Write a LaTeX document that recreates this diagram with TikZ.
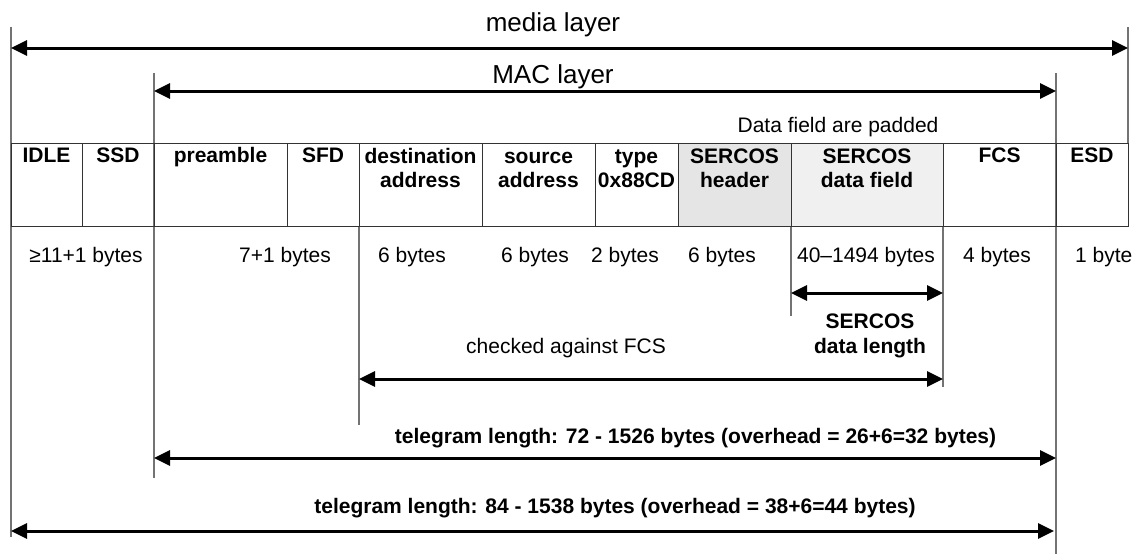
\documentclass[tikz,border=0pt]{standalone}
\usepackage{fontspec}
\setmainfont{Liberation Sans}
\usepackage{tikz}
\usetikzlibrary{arrows.meta}
\tikzset{
    field-cell/.style = {draw=black!80, line width=1pt, rectangle, minimum height=83pt, inner sep=0pt},
    field-title/.style = {font=\fontsize{21}{24.5}\selectfont\bfseries, align=center, anchor=base, inner sep=0pt},
    size-label/.style = {font=\fontsize{21}{24}\selectfont, anchor=base, inner sep=0pt},
    layer-label/.style = {font=\fontsize{26}{30}\selectfont, anchor=base, inner sep=0pt},
    span-arrow/.style = {line width=3pt, {Triangle[length=16pt,width=15pt]}-{Triangle[length=16pt,width=15pt]}},
    guide-line/.style = {draw=black!55, line width=1.2pt},
}

\begin{document}
\begin{tikzpicture}[x=1pt, y=-1pt]
\useasboundingbox (0,0) rectangle (1136,554);

\draw[guide-line] (11,27) -- (11,537);
\draw[guide-line] (154,73) -- (154,478);
\draw[guide-line] (1056,73) -- (1056,554);
\draw[guide-line] (1128,27) -- (1128,143);
\draw[guide-line] (359,226) -- (359,425);
\draw[guide-line] (791,226) -- (791,316);
\draw[guide-line] (943,226) -- (943,387);

\node[field-cell, minimum width=71pt] (idle) at (46.5,184.5) {};
\node[field-cell, minimum width=72pt] (ssd) at (118,184.5) {};
\node[field-cell, minimum width=133pt] (preamble) at (220.5,184.5) {};
\node[field-cell, minimum width=72pt] (sfd) at (323,184.5) {};
\node[field-cell, minimum width=123pt] (dest) at (420.5,184.5) {};
\node[field-cell, minimum width=113pt] (src) at (538.5,184.5) {};
\node[field-cell, minimum width=83pt] (type) at (636.5,184.5) {};
\node[field-cell, minimum width=113pt, fill=black!10] (header) at (734.5,184.5) {};
\node[field-cell, minimum width=152pt, fill=black!6] (data) at (867,184.5) {};
\node[field-cell, minimum width=113pt] (fcs) at (999.5,184.5) {};
\node[field-cell, minimum width=72pt] (esd) at (1092,184.5) {};

\node[field-title] (idle-t) at ([yshift=-20pt]idle.north) {IDLE};
\node[field-title] (ssd-t) at ([yshift=-20pt]ssd.north) {SSD};
\node[field-title] (preamble-t) at ([yshift=-20pt]preamble.north) {preamble};
\node[field-title] (sfd-t) at ([yshift=-20pt]sfd.north) {SFD};
\node[field-title] (dest-t) at ([yshift=-45pt]dest.north) {destination\\address};
\node[field-title] (src-t) at ([yshift=-45pt]src.north) {source\\address};
\node[field-title] (type-t) at ([yshift=-45pt]type.north) {type\\0x88CD};
\node[field-title] (header-t) at ([yshift=-45pt]header.north) {SERCOS\\header};
\node[field-title] (data-t) at ([yshift=-45pt]data.north) {SERCOS\\data field};
\node[field-title] (fcs-t) at ([yshift=-20pt]fcs.north) {FCS};
\node[field-title] (esd-t) at ([yshift=-20pt]esd.north) {ESD};

\node[size-label] (idle-b) at (86,262) {≥11+1 bytes};
\node[size-label] (preamble-b) at (285,262) {7+1 bytes};
\node[size-label] (dest-b) at (412,262) {6 bytes};
\node[size-label] (src-b) at (535,262) {6 bytes};
\node[size-label] (type-b) at (625,262) {2 bytes};
\node[size-label] (header-b) at (722,262) {6 bytes};
\node[size-label] (data-b) at (866,262) {40–1494 bytes};
\node[size-label] (fcs-b) at (997,262) {4 bytes};
\node[size-label, anchor=base west] (esd-b) at (1075,262) {1 byte};

\node[layer-label] (media) at (553,31) {media layer};
\node[layer-label] (mac) at (553,83) {MAC layer};
\node[size-label] (padded) at (838,132) {Data field are padded};
\node[field-title] (sercos-len) at (870,353) {SERCOS\\data length};
\node[size-label] (checked) at (566,353) {checked against FCS};
\node[field-title] (mac-len) at (695.5,443) {telegram length: 72 - 1526 bytes (overhead = 26+6=32 bytes)};
\node[field-title] (media-len) at (615,513) {telegram length: 84 - 1538 bytes (overhead = 38+6=44 bytes)};

\coordinate (media-l) at (11,48);
\coordinate (media-r) at (1128,48);
\coordinate (mac-l) at (154,91);
\coordinate (mac-r) at (1056,91);
\coordinate (sercos-l) at (791,293);
\coordinate (sercos-r) at (943,293);
\coordinate (checked-l) at (359,379);
\coordinate (checked-r) at (943,379);
\coordinate (mac-len-l) at (154,458);
\coordinate (mac-len-r) at (1056,458);
\coordinate (media-len-l) at (11,531);
\coordinate (media-len-r) at (1054,531);

\draw[span-arrow] (media-l) -- (media-r);
\draw[span-arrow] (mac-l) -- (mac-r);
\draw[span-arrow] (sercos-l) -- (sercos-r);
\draw[span-arrow] (checked-l) -- (checked-r);
\draw[span-arrow] (mac-len-l) -- (mac-len-r);
\draw[span-arrow] (media-len-l) -- (media-len-r);
\end{tikzpicture}
\end{document}
